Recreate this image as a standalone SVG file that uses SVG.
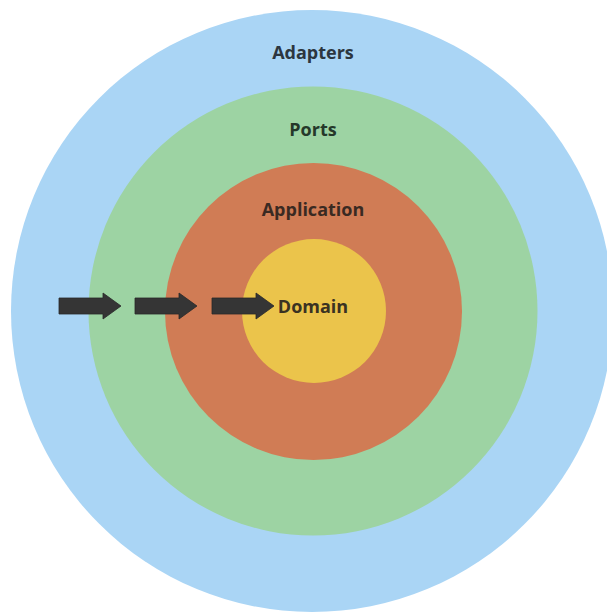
<svg xmlns="http://www.w3.org/2000/svg" width="607" height="615" viewBox="0 0 607 615">
  <style>
    .label { font-family: "Open Sans", "Liberation Sans", sans-serif; font-weight: 700; font-size: 18px; text-anchor: middle; }
    .arrow { fill: #353535; stroke: #2a2a2a; stroke-width: 0.8; }
  </style>
  <defs>
    <!-- block arrow pointing right, origin at the left end of the shaft centre line -->
    <path id="blockArrow" d="M0,-8 L44,-8 L44,-13 L62,0 L44,13 L44,8 L0,8 Z"/>
  </defs>
  <rect width="607" height="615" fill="#ffffff"/>

  <g id="adapters">
    <circle cx="312" cy="311" r="301" fill="#aad5f5"/>
    <text class="label" x="313" y="59" fill="#2c3640">Adapters</text>
  </g>
  <g id="ports">
    <circle cx="313" cy="311" r="224.5" fill="#9dd3a3"/>
    <text class="label" x="313" y="136" fill="#25382a">Ports</text>
  </g>
  <g id="application">
    <circle cx="313.5" cy="311.5" r="148.5" fill="#d07c55"/>
    <text class="label" x="313" y="216" fill="#3a2a22">Application</text>
  </g>
  <g id="domain">
    <circle cx="314" cy="311" r="72" fill="#ebc44b"/>
    <text class="label" x="313" y="313" fill="#3a3222">Domain</text>
  </g>

  <g id="connectors">
    <use href="#blockArrow" class="arrow" x="59" y="306"/>
    <use href="#blockArrow" class="arrow" x="135" y="306"/>
    <use href="#blockArrow" class="arrow" x="212" y="306"/>
  </g>
</svg>
